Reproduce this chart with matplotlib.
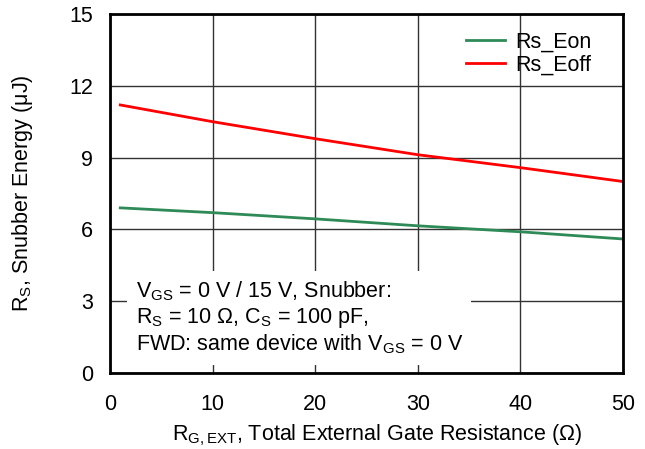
import matplotlib.pyplot as plt

plt.rcParams['font.family'] = ['Liberation Sans', 'DejaVu Sans']
plt.rcParams['mathtext.fontset'] = 'custom'
plt.rcParams['mathtext.rm'] = 'Liberation Sans'
plt.rcParams['mathtext.it'] = 'Liberation Sans'

r_g = [1, 10, 20, 30, 40, 50]
e_on = [6.9, 6.7, 6.44, 6.15, 5.9, 5.6]
e_off = [11.2, 10.5, 9.79, 9.12, 8.58, 8.0]

fs = 15.5
fig = plt.figure(figsize=(6.45, 4.49), dpi=100)
ax = fig.add_axes([110/645, 1 - 373/449, 513/645, 359/449])

ax.plot(r_g, e_on, color='#2e8b57', lw=2, label='Rs_Eon')
ax.plot(r_g, e_off, color='#ff0000', lw=2, label='Rs_Eoff')

ax.set_xlim(0, 50)
ax.set_ylim(0, 15)
ax.set_xticks([0, 10, 20, 30, 40, 50])
ax.set_yticks([0, 3, 6, 9, 12, 15])
ax.tick_params(length=0, labelsize=fs)
ax.tick_params(axis='x', pad=15)
ax.tick_params(axis='y', pad=12)
ax.grid(True, color='#333333', lw=1)
for s in ax.spines.values():
    s.set_linewidth(2)
    s.set_color('black')

ax.set_xlabel('R$_{G,EXT}$, Total External Gate Resistance (Ω)', fontsize=fs, va='center')
ax.xaxis.set_label_coords(0.52, -0.173)
ax.set_ylabel('R$_S$, Snubber Energy (μJ)', fontsize=fs, va='center')
ax.yaxis.set_label_coords(-0.17, 0.5)

ax.legend(loc='upper right', frameon=False, fontsize=fs, handlelength=1.8,
          handletextpad=0.5, labelspacing=0.1, borderaxespad=0.4,
          bbox_to_anchor=(1 - 14/513, 1))

ax.text(2.5, 2.3,
        'V$_{GS}$ = 0 V / 15 V, Snubber:\nR$_S$ = 10 Ω, C$_S$ = 100 pF,\nFWD: same device with V$_{GS}$ = 0 V',
        fontsize=fs, va='center', ha='left', linespacing=1.15,
        bbox=dict(facecolor='white', edgecolor='none', pad=6), zorder=5)

fig.savefig('out.png', dpi=100)
